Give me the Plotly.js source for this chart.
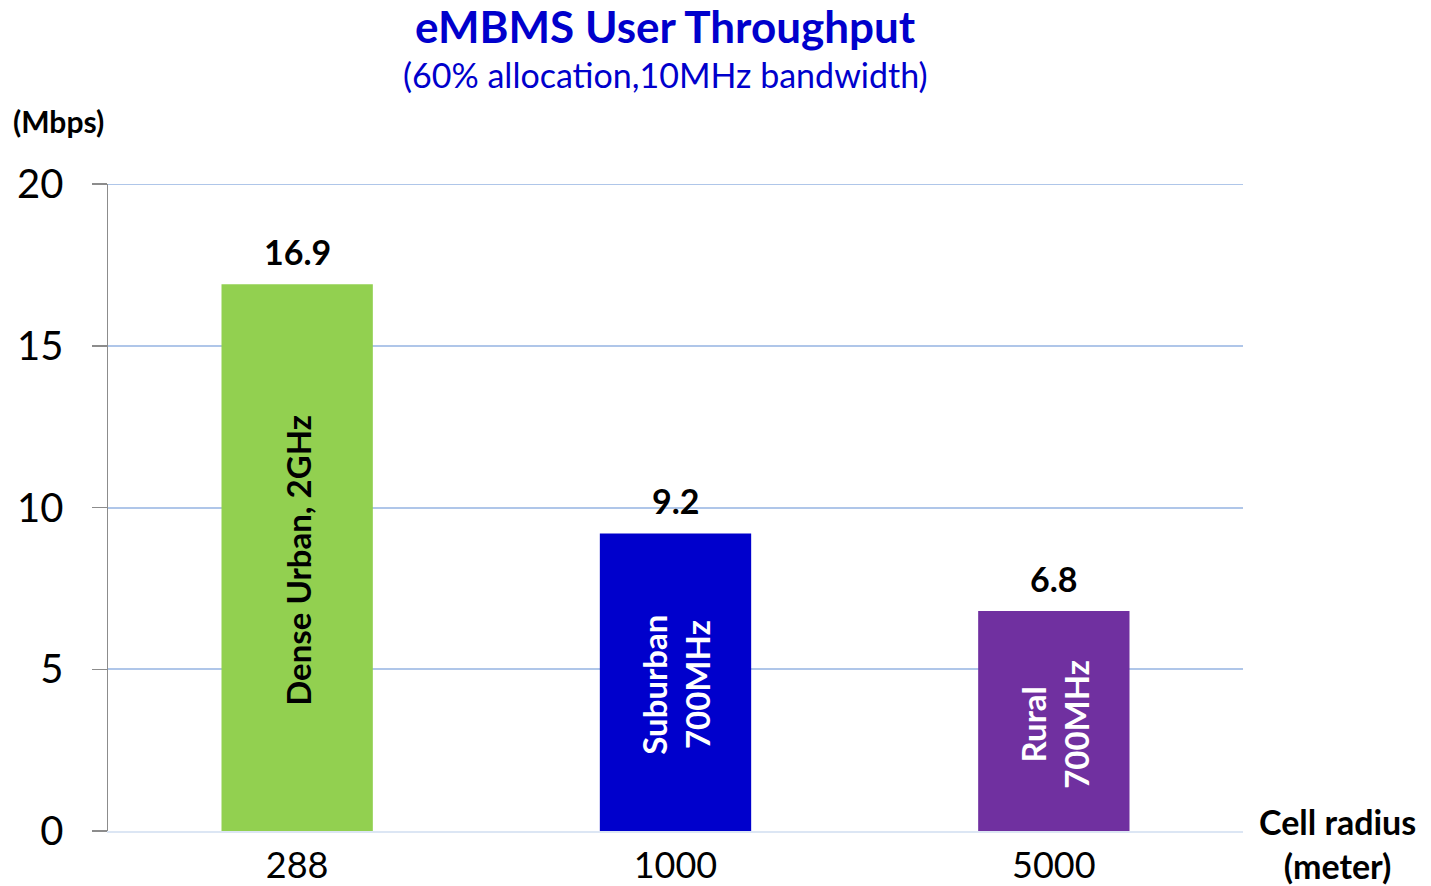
<!DOCTYPE html>
<html>
<head>
<meta charset="utf-8">
<script src="https://cdn.plot.ly/plotly-3.0.1.min.js"></script>
<style>html,body{margin:0;padding:0;background:#fff}#chart{width:1431px;height:886px}</style>
</head>
<body>
<div id="chart"></div>
<script>
const categories = ["288", "1000", "5000"];
const throughput = [16.9, 9.2, 6.8];
const valueLabels = ["16.9", "9.2", "6.8"];
const barLabels = ["Dense Urban, 2GHz", "Suburban<br>700MHz", "Rural<br>700MHz"];
const barColors = ["#92D050", "#0000CC", "#7030A0"];
const barLabelColors = ["#000000", "#FFFFFF", "#FFFFFF"];
const yTicks = [0, 5, 10, 15, 20];
const yMax = 20;

const FONT = "Lato, Carlito, 'Open Sans', sans-serif";

const trace = {
  type: "bar",
  x: categories,
  y: throughput,
  marker: {color: barColors},
  hoverinfo: "none"
};

const annotations = [];
categories.forEach((c, i) => {
  annotations.push({
    x: i, y: throughput[i], xref: "x", yref: "y",
    text: "<b>" + valueLabels[i] + "</b>",
    showarrow: false, yanchor: "bottom", yshift: 10,
    font: {family: FONT, size: 34, color: "#000"}
  });
  annotations.push({
    x: i, y: throughput[i] / 2, xref: "x", yref: "y",
    text: "<b>" + barLabels[i] + "</b>",
    showarrow: false, textangle: -90, yshift: -3,
    font: {family: FONT, size: 33, color: barLabelColors[i]}
  });
});
annotations.push({
  xref: "paper", yref: "paper", x: 0.4916, y: 1, yanchor: "bottom", yshift: 130,
  text: "<b>eMBMS User Throughput</b>", showarrow: false,
  font: {family: FONT, size: 44, color: "#0000CC"}
});
annotations.push({
  xref: "paper", yref: "paper", x: 0.4916, y: 1, yanchor: "bottom", yshift: 87,
  text: "(60% allocation,10MHz bandwidth)", showarrow: false,
  font: {family: FONT, size: 34, color: "#0000CC"}
});
annotations.push({
  xref: "paper", yref: "paper", x: 0, y: 1, xanchor: "left", yanchor: "bottom",
  xshift: -97, yshift: 43,
  text: "<b>(Mbps)</b>", showarrow: false,
  font: {family: FONT, size: 30, color: "#000"}
});
annotations.push({
  xref: "paper", yref: "paper", x: 1, y: 0, xanchor: "center", yanchor: "middle",
  xshift: 94, yshift: -12,
  text: "<b>Cell radius<br>(meter)</b>", showarrow: false,
  font: {family: FONT, size: 34, color: "#000"}
});

const layout = {
  width: 1431, height: 886,
  margin: {l: 108, r: 188, t: 184, b: 55},
  paper_bgcolor: "#fff", plot_bgcolor: "#fff",
  showlegend: false,
  bargap: 0.6,
  font: {family: FONT, color: "#000"},
  xaxis: {
    type: "category",
    range: [-0.5, 2.5],
    showgrid: false,
    showline: true, linecolor: "#DCE6F4", linewidth: 2,
    ticks: "",
    tickfont: {family: FONT, size: 36, color: "#000"},
    ticklabelstandoff: 2,
    zeroline: false
  },
  yaxis: {
    range: [0, yMax],
    tickvals: yTicks,
    ticktext: yTicks.map(String),
    showgrid: true, gridcolor: "#AFC6E9", gridwidth: 2,
    showline: true, linecolor: "#8C8C8C", linewidth: 1.5,
    ticks: "outside", ticklen: 15, tickcolor: "#8C8C8C", tickwidth: 1.5,
    tickfont: {family: FONT, size: 40, color: "#000"},
    ticklabelstandoff: 20,
    zeroline: false
  },
  shapes: [{
    type: "line", xref: "paper", yref: "y", x0: 0, x1: 1, y0: yMax, y1: yMax,
    line: {color: "#AFC6E9", width: 2}, layer: "below"
  }],
  annotations: annotations
};

Plotly.newPlot("chart", [trace], layout, {displayModeBar: false, staticPlot: true});
</script>
</body>
</html>
